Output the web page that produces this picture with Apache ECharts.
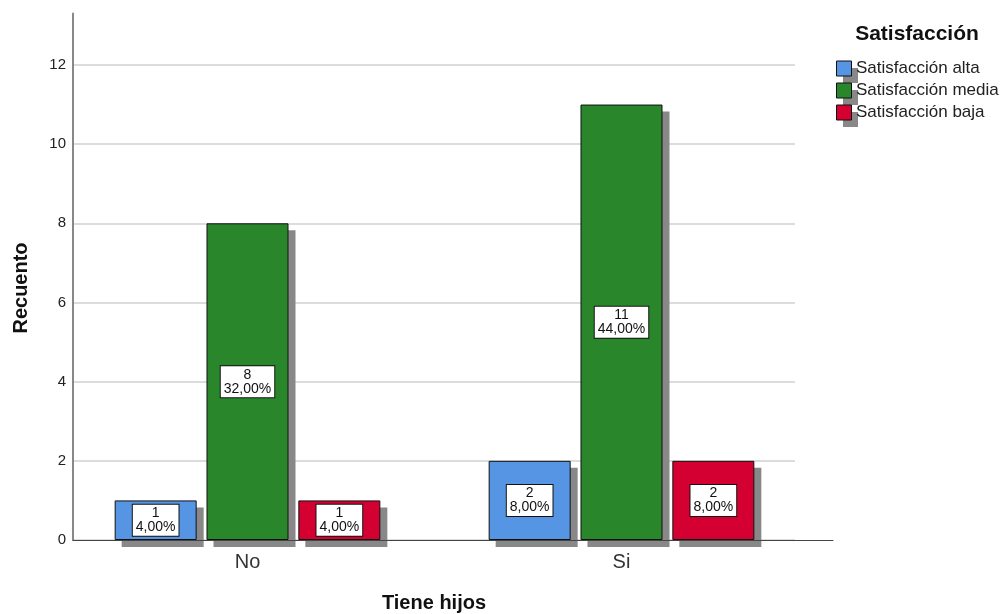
<!DOCTYPE html>
<html><head><meta charset="utf-8">
<script src="https://cdn.jsdelivr.net/npm/echarts@6/dist/echarts.min.js"></script>
<style>html,body{margin:0;padding:0;background:#fff}#c{width:1006px;height:614px}</style>
</head><body><div id="c"></div>
<script>
const categories = ['No', 'Si'];
const seriesNames = ['Satisfacción alta', 'Satisfacción media', 'Satisfacción baja'];
const alta = [1, 2];
const media = [8, 11];
const baja = [1, 2];
const pctAlta = ['4,00%', '8,00%'];
const pctMedia = ['32,00%', '44,00%'];
const pctBaja = ['4,00%', '8,00%'];
const yTicks = [0, 2, 4, 6, 8, 10, 12];
const colors = ['#5595e3', '#2a862a', '#d50032'];

const FONT = '"Liberation Sans", Arial, sans-serif';
const Y_MAX = 13.3;
const TOP = 13.5, HEIGHT = 526.5;
const SH = 7;

function mk(name, vals, pcts, idx) {
  return {
    name: name, type: 'bar', xAxisIndex: 0, yAxisIndex: 0,
    data: vals, barWidth: 82, barGap: '12%',
    itemStyle: {color: colors[idx], borderColor: '#111', borderWidth: 1},
    label: {show: true, position: 'inside', fontFamily: FONT, fontSize: 14, color: '#111',
      backgroundColor: '#fff', borderColor: '#111', borderWidth: 1,
      padding: [2, 3, 1, 3], lineHeight: 14, align: 'center',
      formatter: p => p.value + '\n' + pcts[p.dataIndex]},
    z: 3
  };
}
function shadow(vals) {
  return {
    name: 'shadow', type: 'bar', xAxisIndex: 3, yAxisIndex: 3,
    data: vals, barWidth: 82, barGap: '12%', silent: true,
    itemStyle: {color: '#888'}, z: 2
  };
}

const legendCommon = {
  left: 836, top: 60, orient: 'vertical', itemWidth: 15, itemHeight: 15, itemGap: 5, padding: 0,
  data: seriesNames, icon: 'rect', selectedMode: false
};

const chart = echarts.init(document.getElementById('c'));
chart.setOption({
  animation: false,
  backgroundColor: '#fff',
  grid: [
    {left: 60.5, width: 748, top: TOP, height: HEIGHT},
    {left: 73, width: 722, top: TOP + HEIGHT * (Y_MAX - 12) / Y_MAX, height: HEIGHT * 12 / Y_MAX},
    {left: 73, width: 760, top: TOP, height: HEIGHT},
    {left: 60.5 + SH, width: 748, top: TOP + SH, height: HEIGHT}
  ],
  xAxis: [
    {gridIndex: 0, type: 'category', data: categories, axisLine: {show: false}, axisTick: {show: false},
      axisLabel: {fontFamily: FONT, fontSize: 20, color: '#333', margin: 12}},
    {gridIndex: 1, type: 'category', data: categories, show: false},
    {gridIndex: 2, type: 'category', data: categories, axisLine: {show: true, lineStyle: {color: '#444', width: 1}},
      axisTick: {show: false}, axisLabel: {show: false}, z: 4},
    {gridIndex: 3, type: 'category', data: categories, show: false}
  ],
  yAxis: [
    {gridIndex: 0, type: 'value', min: 0, max: Y_MAX, show: false},
    {gridIndex: 1, type: 'value', min: 0, max: 12, interval: 2, axisLine: {show: false}, axisTick: {show: false},
      axisLabel: {show: false}, splitLine: {show: true, lineStyle: {color: '#d0d0d0', width: 1.5}}},
    {gridIndex: 2, type: 'value', min: 0, max: Y_MAX, interval: 2,
      axisLine: {show: true, lineStyle: {color: '#888', width: 2}}, axisTick: {show: false},
      splitLine: {show: false},
      axisLabel: {fontFamily: FONT, fontSize: 15, color: '#222', margin: 7,
        formatter: v => yTicks.indexOf(v) >= 0 ? String(v) : ''}},
    {gridIndex: 3, type: 'value', min: 0, max: Y_MAX, show: false}
  ],
  legend: [
    Object.assign({}, legendCommon, {
      textStyle: {fontFamily: FONT, fontSize: 17, color: '#222'},
      itemStyle: {borderWidth: 0, shadowColor: '#888', shadowOffsetX: SH, shadowOffsetY: SH, shadowBlur: 0},
      z: 4
    }),
    Object.assign({}, legendCommon, {
      textStyle: {fontFamily: FONT, fontSize: 17, color: 'rgba(0,0,0,0)'},
      itemStyle: {borderColor: '#111', borderWidth: 1, shadowBlur: 0, shadowOffsetX: 0, shadowOffsetY: 0, shadowColor: 'rgba(0,0,0,0)'},
      z: 5
    })
  ],
  graphic: [
    {type: 'text', x: 917, y: 34, style: {text: 'Satisfacción', font: 'bold 21px ' + FONT, fill: '#111', align: 'center', verticalAlign: 'middle'}},
    {type: 'text', x: 21, y: 288, rotation: Math.PI / 2, style: {text: 'Recuento', font: 'bold 20px ' + FONT, fill: '#111', align: 'center', verticalAlign: 'middle'}},
    {type: 'text', x: 434, y: 603, style: {text: 'Tiene hijos', font: 'bold 20px ' + FONT, fill: '#111', align: 'center', verticalAlign: 'middle'}}
  ],
  series: [
    shadow(alta), shadow(media), shadow(baja),
    mk(seriesNames[0], alta, pctAlta, 0),
    mk(seriesNames[1], media, pctMedia, 1),
    mk(seriesNames[2], baja, pctBaja, 2)
  ]
});
</script></body></html>
